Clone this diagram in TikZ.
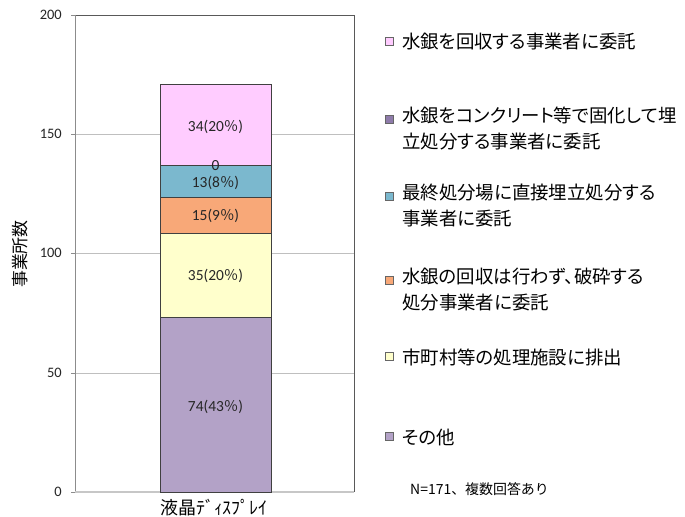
\documentclass[tikz,border=0pt]{standalone}
\usepackage{fontspec}
\setmainfont{Carlito}
\newfontfamily\jp{Noto Sans CJK JP}
\newfontfamily\jpp[RawFeature={+palt}]{Noto Sans CJK JP}
\definecolor{cpink}{HTML}{FFCCFF}
\definecolor{cconc}{HTML}{8E7BAA}
\definecolor{cblue}{HTML}{7BB8CE}
\definecolor{corange}{HTML}{F8A878}
\definecolor{cyellow}{HTML}{FFFFCC}
\definecolor{cpurple}{HTML}{B3A2C7}
\definecolor{cframe}{HTML}{595959}
\definecolor{cgrid}{HTML}{BFBFBF}
\begin{document}
\begin{tikzpicture}[x=1bp,y=-1bp,
  seg/.style={draw=black!75,line width=0.8bp},
  tick/.style={anchor=east,font=\fontsize{14.5}{14.5}\selectfont,text=black!85,inner sep=0pt},
  barlbl/.style={font=\fontsize{15.5}{15.5}\selectfont,text=black!85,inner sep=0pt},
  legsq/.style={draw=black!60,line width=0.8bp,minimum size=8.5bp,inner sep=0pt},
  legtxt/.style={anchor=west,font=\jpp\fontsize{18.5}{26}\selectfont,inner sep=0pt,align=left},
]
\newcommand\pct{{\jp\fontsize{14.5}{14.5}\selectfont ％}}
\useasboundingbox (0,0) rectangle (685,517);
\fill[white] (0,0) rectangle (685,517);
% grid
\foreach \yy in {134,253,373}{
  \draw[cgrid,line width=0.8bp] (75,\yy) -- (354,\yy);
}
% frame
\draw[cframe,line width=0.8bp] (75,15) -- (354,15) -- (354,492);
\draw[black!45,line width=0.8bp] (75,15) -- (75,492);
\draw[black!22,line width=1.6bp] (75,492) -- (354,492);
\foreach \yy in {15,134,253,373,492}{
  \draw[black!45,line width=0.8bp] (71,\yy) -- (75,\yy);
}
% tick labels
\node[tick] (t200) at (62,15) {200};
\node[tick] (t150) at (62,134) {150};
\node[tick] (t100) at (62,253) {100};
\node[tick] (t50) at (62,373) {50};
\node[tick] (t0) at (62,492) {0};
% bar segments
\draw[seg,fill=cpurple] (160,317) rectangle (271,492);
\draw[seg,fill=cyellow] (160,233) rectangle (271,317);
\draw[seg,fill=corange] (160,197) rectangle (271,233);
\draw[seg,fill=cblue] (160,165) rectangle (271,197);
\draw[seg,fill=cpink] (160,84) rectangle (271,165);
% bar labels
\node[barlbl] (l1) at (215.5,127) {34(20\pct)};
\node[barlbl] (l2) at (215.5,166) {0};
\node[barlbl] (l3) at (215.5,183) {13(8\pct)};
\node[barlbl] (l4) at (215.5,216) {15(9\pct)};
\node[barlbl] (l5) at (215.5,276) {35(20\pct)};
\node[barlbl] (l6) at (215.5,407) {74(43\pct)};
% axis titles
\node[font=\jp\fontsize{17}{17}\selectfont,rotate=90,inner sep=0pt] (ytitle) at (20,254) {事業所数};
\node[font=\jp\fontsize{18}{18}\selectfont,inner sep=0pt] (xcat) at (214,508) {液晶ﾃﾞｨｽﾌﾟﾚｲ};
% legend
\node[legsq,fill=cpink] (q1) at (389.5,41.5) {};
\node[legtxt] (g1) at (402,42) {水銀を回収する事業者に委託};
\node[legsq,fill=cconc] (q2) at (389.5,119.5) {};
\node[legtxt,anchor=north west] (g2) at (402,107) {水銀をコンクリート等で固化して埋\\立処分する事業者に委託};
\node[legsq,fill=cblue] (q3) at (389.5,196.5) {};
\node[legtxt,anchor=north west] (g3) at (402,184) {最終処分場に直接埋立処分する\\事業者に委託};
\node[legsq,fill=corange] (q4) at (389.5,280.5) {};
\node[legtxt,anchor=north west] (g4) at (402,268) {水銀の回収は行わず、破砕する\\処分事業者に委託};
\node[legsq,fill=cyellow] (q5) at (389.5,356.5) {};
\node[legtxt] (g5) at (402,357) {市町村等の処理施設に排出};
\node[legsq,fill=cpurple] (q6) at (389.5,436.5) {};
\node[legtxt] (g6) at (402,437) {その他};
\node[anchor=west,font=\jp\fontsize{14}{14}\selectfont,inner sep=0pt] (note) at (410,489) {N=171、複数回答あり};
\end{tikzpicture}
\end{document}
